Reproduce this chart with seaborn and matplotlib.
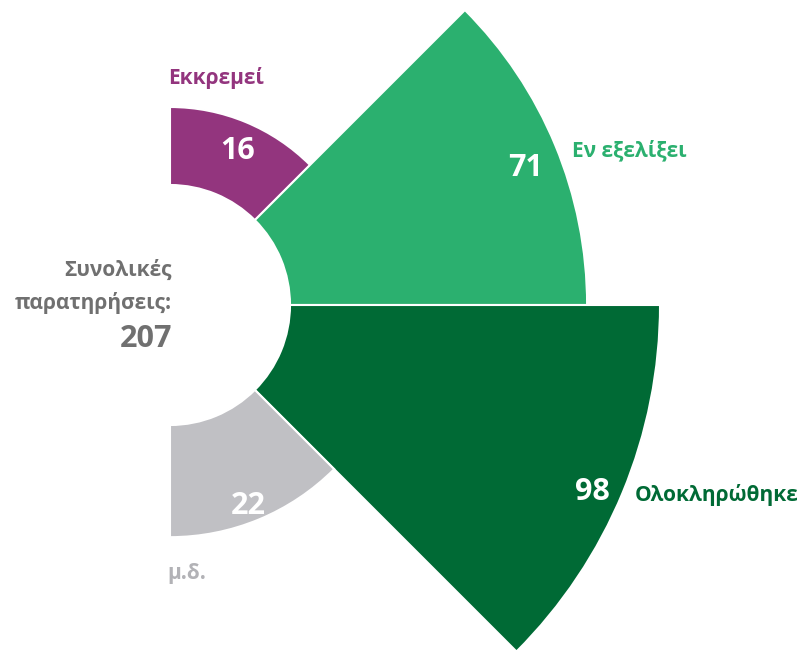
import numpy as np
import matplotlib
matplotlib.use("Agg")
import matplotlib.pyplot as plt
import seaborn as sns

# --- data ---
categories = ['Εκκρεμεί', 'Εν εξελίξει', 'Ολοκληρώθηκε', 'μ.δ.']
values = [16, 71, 98, 22]
total = 207
colors = ['#93357E', '#2BB06F', '#006A35', '#C0C0C4']
label_colors = ['#93357E', '#2BB06F', '#006A35', '#B2B2B6']
center_lines = ['Συνολικές', 'παρατηρήσεις:', str(total)]

sns.set_theme(style="white")
plt.rcParams['font.family'] = ['Open Sans', 'DejaVu Sans']

W, H, DPI = 803, 652, 100
fig = plt.figure(figsize=(W / DPI, H / DPI), dpi=DPI)

# polar axes placed so the centre sits at pixel (170, 305)
cx, cy = 170, 305
scale = 49.5          # pixels per sqrt-unit
R = 10
half = R * scale
ax = fig.add_axes([(cx - half) / W, (H - cy - half) / H, 2 * half / W, 2 * half / H],
                  projection='polar')
ax.set_ylim(0, R)
ax.axis('off')

# half-rose: each slice 45 degrees, radius ~ sqrt(value), white hole in the middle
width = np.pi / 4
theta = np.deg2rad([67.5, 22.5, -22.5, -67.5])
r_hole = 120 / scale
radii = np.sqrt(values)
ax.bar(theta, radii - r_hole, width=width, bottom=r_hole,
       color=sns.color_palette(colors), edgecolor='white', linewidth=1.5)

# value numbers inside slices, a little in from the outer arc
num_theta = np.deg2rad([66.5, 21.5, -23.5, -68.5])
num_inset = [0.55, 0.7, 0.6, 0.4]
for t, r, d, v in zip(num_theta, radii, num_inset, values):
    ax.annotate(str(v), xy=(t, r - d), xytext=(0, -3), textcoords='offset pixels',
                color='white', fontsize=22, fontweight='bold',
                ha='center', va='center')

# category labels outside slices
label_anchor = [(np.pi / 2, radii[0]), (theta[1], radii[1]),
                (theta[2], radii[2]), (-np.pi / 2, radii[3])]
label_offset = [(-2, 29), (17, -5), (12, -2), (-3, -36)]
for (t, r), off, lab, c in zip(label_anchor, label_offset, categories, label_colors):
    ax.annotate(lab, xy=(t, r), xytext=off, textcoords='offset pixels',
                color=c, fontsize=15, fontweight='bold', ha='left', va='center',
                annotation_clip=False)

# centre text
center_offsets = [35, 2, -34]
center_sizes = [15, 15, 22]
for line, dy, fs in zip(center_lines, center_offsets, center_sizes):
    ax.annotate(line, xy=(0, 0), xytext=(2, dy), textcoords='offset pixels',
                color='#707070', fontsize=fs, fontweight='bold',
                ha='right', va='center', annotation_clip=False)

fig.savefig('out.png', dpi=DPI)
